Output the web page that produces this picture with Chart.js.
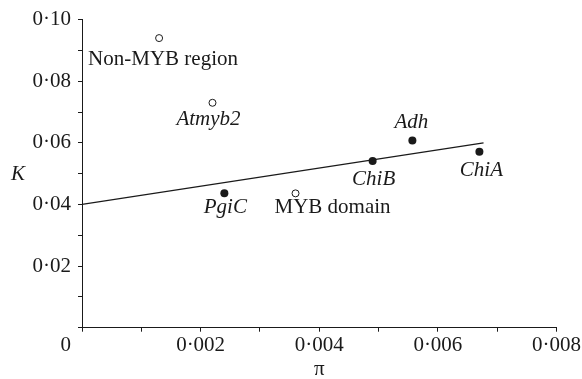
<!DOCTYPE html>
<html><head><meta charset="utf-8">
<script src="https://cdn.jsdelivr.net/npm/chart.js@4/dist/chart.umd.min.js"></script>
<style>html,body{margin:0;padding:0;background:#fff}#wrap{width:582px;height:379px;position:relative}</style>
</head><body><div id="wrap"><canvas id="c" width="582" height="379"></canvas></div>
<script>
// ---- data ----
const geneNames = ['PgiC', 'ChiB', 'Adh', 'ChiA'];
const genePi = [0.0024, 0.0049, 0.00557, 0.0067];
const geneK = [0.0436, 0.0541, 0.0608, 0.0571];
const regionNames = ['Non-MYB region', 'Atmyb2', 'MYB domain'];
const regionPi = [0.0013, 0.0022, 0.0036];
const regionK = [0.094, 0.073, 0.0436];
const fitPi = [0, 0.00677];
const fitK = [0.0400, 0.0600];
const xTickValues = [0.002, 0.004, 0.006, 0.008];
const xTickLabels = ['0·002', '0·004', '0·006', '0·008'];
const yTickValues = [0.02, 0.04, 0.06, 0.08, 0.10];
const yTickLabels = ['0·02', '0·04', '0·06', '0·08', '0·10'];
const originLabel = '0';
const xTitle = 'π';
const yTitle = 'K';

// ---- styles ----
const FONT = "'Liberation Serif', 'Times New Roman', serif";
const INK = '#1a1a1a';
const labelStyle = {
  'Non-MYB region': {dx: -71, dy: 27, align: 'left', italic: false},
  'Atmyb2': {dx: -4, dy: 22, align: 'center', italic: true},
  'MYB domain': {dx: -21, dy: 20, align: 'left', italic: false},
  'PgiC': {dx: 1, dy: 20, align: 'center', italic: true},
  'ChiB': {dx: 1, dy: 24, align: 'center', italic: true},
  'Adh': {dx: -1, dy: -12.5, align: 'center', italic: true},
  'ChiA': {dx: 2, dy: 24, align: 'center', italic: true}
};

function lookup(v, vals, labels) {
  for (let i = 0; i < vals.length; i++) if (Math.abs(v - vals[i]) < 1e-9) return labels[i];
  return '';
}

const pointLabels = {
  id: 'pointLabels',
  afterDatasetsDraw(chart) {
    const ctx = chart.ctx;
    ctx.save();
    ctx.fillStyle = INK;
    ctx.textBaseline = 'alphabetic';
    chart.data.datasets.forEach((ds, di) => {
      if (!ds.names) return;
      const meta = chart.getDatasetMeta(di);
      meta.data.forEach((el, i) => {
        const name = ds.names[i];
        const st = labelStyle[name];
        ctx.font = (st.italic ? 'italic ' : '') + '21px ' + FONT;
        ctx.textAlign = st.align;
        ctx.fillText(name, el.x + st.dx, el.y + st.dy);
      });
    });
    // origin label and y title
    const xs = chart.scales.x, ys = chart.scales.y;
    ctx.font = '21px ' + FONT;
    ctx.textAlign = 'right';
    ctx.textBaseline = 'middle';
    ctx.fillText(originLabel, xs.left - 11, ys.bottom + 18);
    ctx.font = 'italic 21px ' + FONT;
    ctx.textAlign = 'center';
    ctx.fillText(yTitle, 18, ys.getPixelForValue(0.05) + 1);
    ctx.restore();
  }
};

new Chart(document.getElementById('c'), {
  type: 'scatter',
  data: {
    datasets: [
      {
        type: 'line',
        data: fitPi.map((x, i) => ({x, y: fitK[i]})),
        borderColor: INK, borderWidth: 1.3, pointRadius: 0, fill: false, tension: 0
      },
      {
        names: geneNames,
        data: genePi.map((x, i) => ({x, y: geneK[i]})),
        pointRadius: 4, backgroundColor: INK, borderColor: INK, borderWidth: 0
      },
      {
        names: regionNames,
        data: regionPi.map((x, i) => ({x, y: regionK[i]})),
        pointRadius: 3.5, backgroundColor: '#fff', borderColor: INK, borderWidth: 1
      }
    ]
  },
  options: {
    responsive: false,
    animation: false,
    devicePixelRatio: 1,
    layout: {padding: {top: 19, right: 20, bottom: 0, left: 0}},
    plugins: {legend: {display: false}, tooltip: {enabled: false}},
    scales: {
      x: {
        type: 'linear', min: 0, max: 0.008,
        grid: {drawOnChartArea: false, drawTicks: true, tickLength: 4, color: INK, lineWidth: 1},
        border: {display: true, color: INK, width: 1},
        ticks: {
          stepSize: 0.001, autoSkip: false, maxRotation: 0, padding: 1,
          color: INK, font: {family: FONT, size: 21},
          callback: (v) => lookup(v, xTickValues, xTickLabels)
        },
        title: {display: true, text: xTitle, color: INK, font: {family: FONT, size: 21}, padding: {top: 0, bottom: -3}},
        afterFit: (s) => { s.height = 51.3; }
      },
      y: {
        type: 'linear', min: 0, max: 0.10,
        grid: {drawOnChartArea: false, drawTicks: true, tickLength: 4, color: INK, lineWidth: 1},
        border: {display: true, color: INK, width: 1},
        ticks: {
          stepSize: 0.01, autoSkip: false, padding: 7,
          color: INK, font: {family: FONT, size: 21},
          callback: (v) => lookup(v, yTickValues, yTickLabels)
        },
        afterFit: (s) => { s.width = 82; }
      }
    }
  },
  plugins: [pointLabels]
});
</script>
</body></html>
